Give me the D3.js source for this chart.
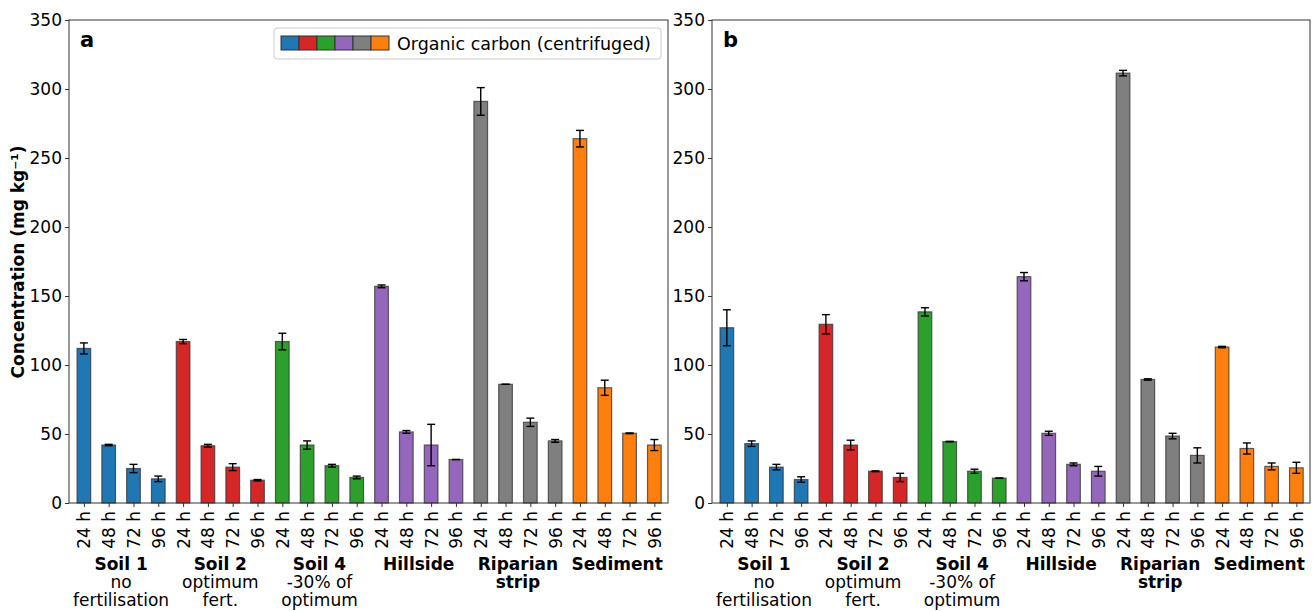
<!DOCTYPE html>
<html>
<head>
<meta charset="utf-8">
<script src="https://cdn.jsdelivr.net/npm/d3@7"></script>
<style>
  body { margin: 0; background: #fff; }
  svg { display: block; font-family: "DejaVu Sans", sans-serif; }
</style>
</head>
<body>
<svg id="chart" width="1315" height="611"></svg>
<script>
// chart data
var groups = ["Soil 1", "Soil 2", "Soil 4", "Hillside", "Riparian", "Sediment"];
var groupLines2 = [["no", "fertilisation"], ["optimum", "fert."], ["-30% of", "optimum"], [], [], []];
var groupBold2 = ["", "", "", "", "strip", ""];
var times = ["24 h", "48 h", "72 h", "96 h"];
var colors = ["#1f77b4", "#d62728", "#2ca02c", "#9467bd", "#7f7f7f", "#ff7f0e"];
var yTicks = [0, 50, 100, 150, 200, 250, 300, 350];

var valuesA = [112, 42, 25, 17.5, 117, 41.5, 26, 16.5, 117, 42, 27, 18.5,
               157, 51.5, 42, 31.5, 291, 86, 58.5, 45, 264, 83.5, 50.5, 42];
var errorsA = [4, 0.5, 3, 2, 1.5, 1, 2.5, 0.5, 6, 3, 1, 1,
               1, 1, 15, 0, 10, 0, 3, 1, 6, 5.5, 0.3, 4];
var valuesB = [127, 43, 26, 17, 129.5, 42, 23, 18.5, 138.5, 44.5, 23, 18,
               164, 50.5, 28, 23, 311.5, 89.5, 48.5, 34.5, 113, 39.5, 26.5, 25.5];
var errorsB = [13, 2, 2, 2, 7, 3.5, 0.3, 3, 3, 0.2, 1.5, 0,
               3, 1.5, 1, 3.5, 2, 0.5, 2, 5.5, 0.5, 4, 2.5, 4];

var svg = d3.select("#chart");
var plotTop = 20, plotBottom = 503;

function drawPanel(x0, x1, vals, errs, letter, withLegend) {
  var g = svg.append("g");
  var idx = d3.range(vals.length);

  var x = d3.scaleLinear().domain([-0.6, 23.55]).range([x0, x1]);
  var y = d3.scaleLinear().domain([0, 350]).range([plotBottom, plotTop]);
  var bw = x(0.55) - x(0);

  // bars
  g.selectAll("rect.bar").data(idx).enter().append("rect")
    .attr("class", "bar")
    .attr("x", function(i) { return x(i) - bw / 2; })
    .attr("y", function(i) { return y(vals[i]); })
    .attr("width", bw)
    .attr("height", function(i) { return y(0) - y(vals[i]); })
    .attr("fill", function(i) { return colors[Math.floor(i / 4)]; })
    .attr("stroke", "#333")
    .attr("stroke-opacity", 0.75)
    .attr("stroke-width", 1.2);

  // error bars
  var eb = g.selectAll("g.err").data(idx).enter().append("g")
    .attr("stroke", "#000").attr("stroke-width", 1.4);
  eb.append("line")
    .attr("x1", function(i) { return x(i); }).attr("x2", function(i) { return x(i); })
    .attr("y1", function(i) { return y(vals[i] - errs[i]); })
    .attr("y2", function(i) { return y(vals[i] + errs[i]); });
  eb.append("line")
    .attr("x1", function(i) { return x(i) - 4; }).attr("x2", function(i) { return x(i) + 4; })
    .attr("y1", function(i) { return y(vals[i] + errs[i]); })
    .attr("y2", function(i) { return y(vals[i] + errs[i]); });
  eb.append("line")
    .attr("x1", function(i) { return x(i) - 4; }).attr("x2", function(i) { return x(i) + 4; })
    .attr("y1", function(i) { return y(vals[i] - errs[i]); })
    .attr("y2", function(i) { return y(vals[i] - errs[i]); });

  // y axis
  var ya = g.append("g").attr("transform", "translate(" + x0 + ",0)")
    .call(d3.axisLeft(y).tickValues(yTicks).tickSize(4).tickPadding(3));
  ya.select(".domain").remove();
  ya.selectAll("text").attr("font-size", 17).attr("fill", "#000")
    .attr("font-family", "DejaVu Sans");
  ya.selectAll("line").attr("stroke", "#333");

  // x axis with rotated labels
  var xa = g.append("g").attr("transform", "translate(0," + plotBottom + ")")
    .call(d3.axisBottom(x).tickValues(idx).tickSize(4)
      .tickFormat(function(i) { return times[i % 4]; }));
  xa.select(".domain").remove();
  xa.selectAll("line").attr("stroke", "#333");
  xa.selectAll("text")
    .attr("font-size", 17).attr("fill", "#000").attr("font-family", "DejaVu Sans")
    .attr("transform", "rotate(-90)")
    .attr("text-anchor", "end")
    .attr("x", -8).attr("y", 0).attr("dy", "0.35em");

  // frame
  g.append("rect").attr("x", x0).attr("y", plotTop)
    .attr("width", x1 - x0).attr("height", plotBottom - plotTop)
    .attr("fill", "none").attr("stroke", "#333").attr("stroke-width", 1);

  // group labels
  groups.forEach(function(name, k) {
    var cx = x(k * 4 + 1.5);
    g.append("text").attr("x", cx).attr("y", 570)
      .attr("text-anchor", "middle").attr("font-size", 17).attr("font-weight", "bold")
      .text(name);
    if (groupBold2[k]) {
      g.append("text").attr("x", cx).attr("y", 588)
        .attr("text-anchor", "middle").attr("font-size", 17).attr("font-weight", "bold")
        .text(groupBold2[k]);
    }
    groupLines2[k].forEach(function(line, j) {
      g.append("text").attr("x", cx).attr("y", 588 + j * 18)
        .attr("text-anchor", "middle").attr("font-size", 17)
        .text(line);
    });
  });

  // panel letter
  g.append("text").attr("x", x0 + 11).attr("y", 47)
    .attr("font-size", 21).attr("font-weight", "bold").text(letter);

  if (withLegend) {
    var lg = g.append("g");
    lg.append("rect").attr("x", 274).attr("y", 28).attr("width", 387).attr("height", 31)
      .attr("rx", 3).attr("fill", "#fff").attr("fill-opacity", 0.8)
      .attr("stroke", "#ccc");
    lg.selectAll("rect.sw").data(colors).enter().append("rect")
      .attr("class", "sw")
      .attr("x", function(c, i) { return 281 + i * 18; }).attr("y", 36)
      .attr("width", 18).attr("height", 14)
      .attr("fill", function(c) { return c; })
      .attr("stroke", "#333").attr("stroke-width", 1);
    lg.append("text").attr("x", 397).attr("y", 49.5)
      .attr("font-size", 17.5).text("Organic carbon (centrifuged)");
  }
}

drawPanel(69, 668, valuesA, errorsA, "a", true);
drawPanel(712, 1310, valuesB, errorsB, "b", false);

// y label
svg.append("text")
  .attr("transform", "translate(24,262) rotate(-90)")
  .attr("text-anchor", "middle").attr("font-size", 17).attr("font-weight", "bold")
  .text("Concentration (mg kg\u207B\u00B9)");
</script>
</body>
</html>
